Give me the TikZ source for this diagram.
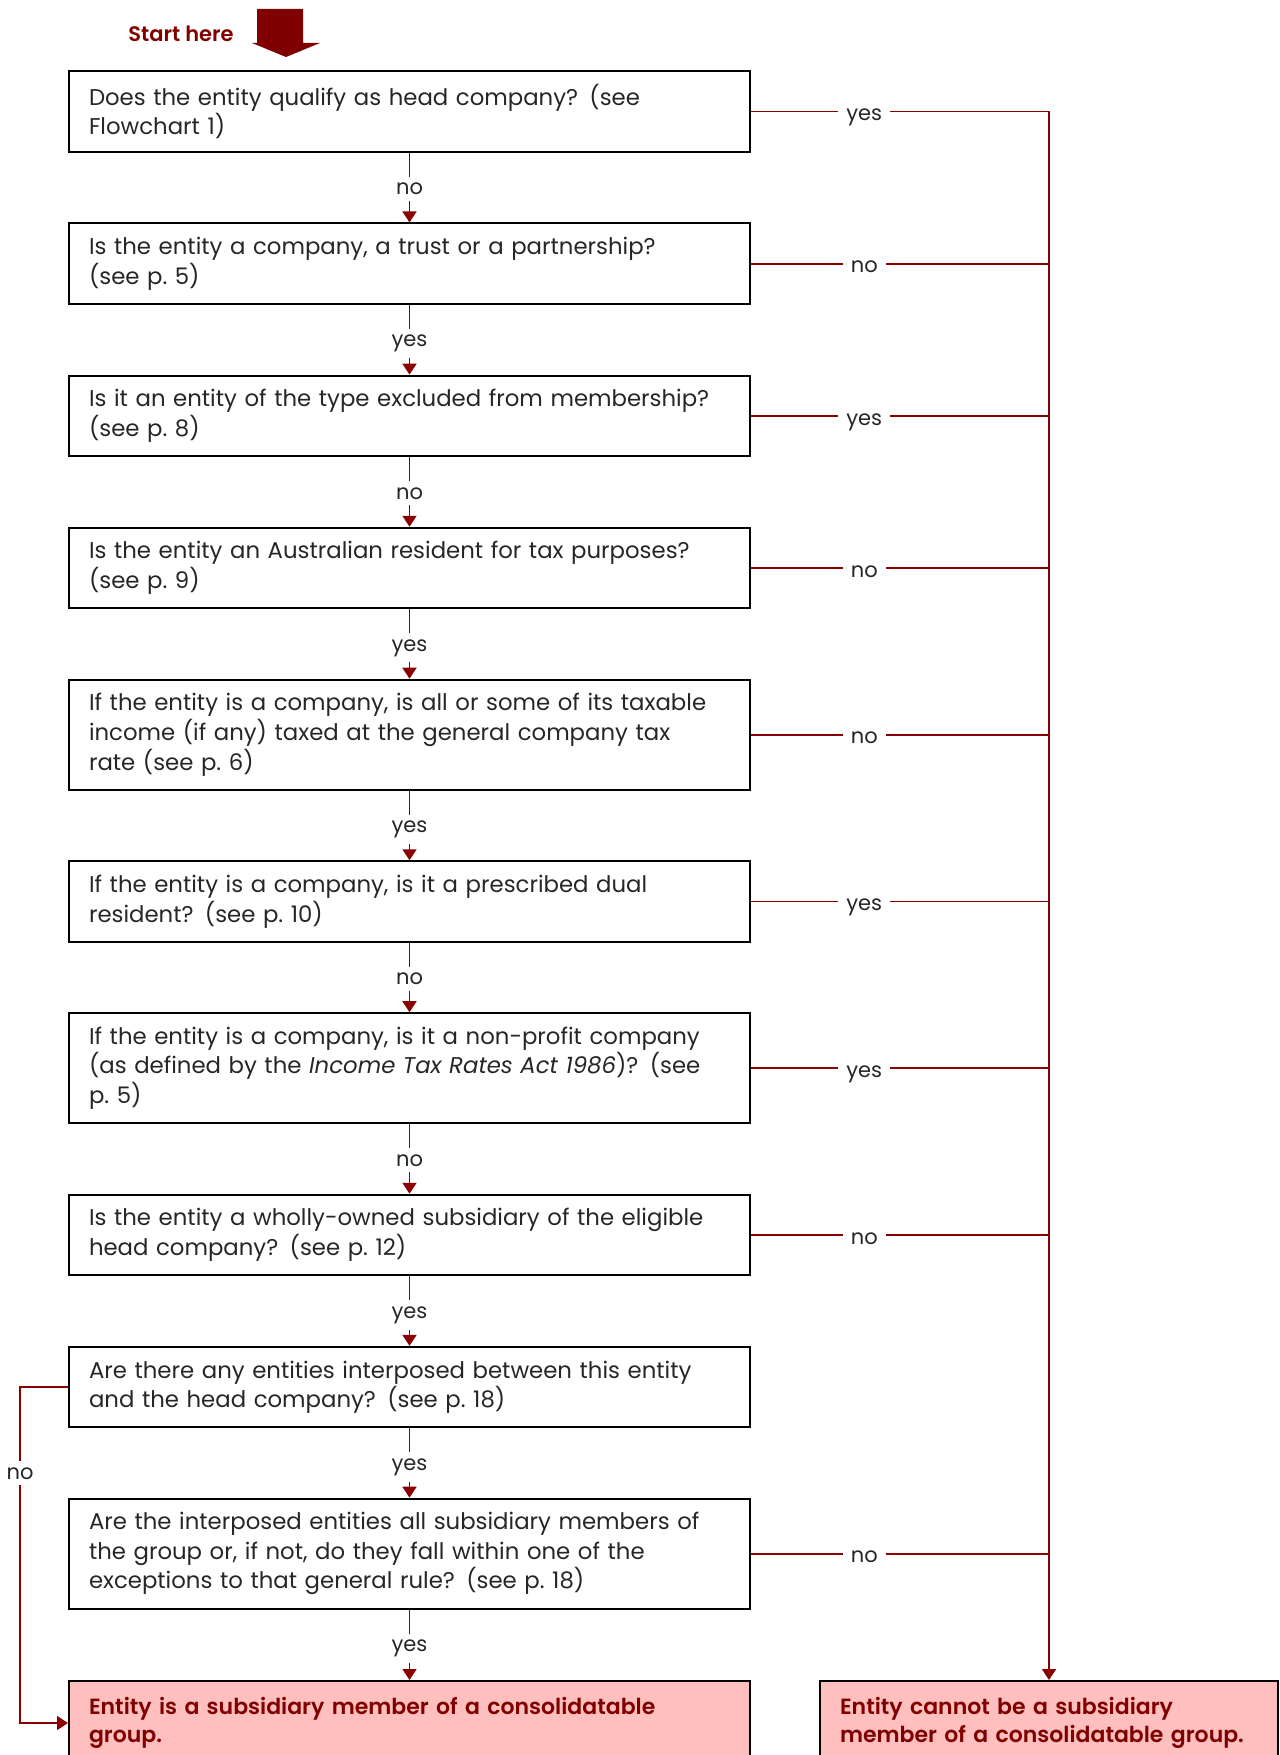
\documentclass[tikz,border=0pt]{standalone}
\usepackage{fontspec}
\setmainfont{Poppins}[BoldFont={Poppins SemiBold}]
\usetikzlibrary{arrows.meta}
\definecolor{linkred}{RGB}{139,0,0}
\definecolor{darkred}{RGB}{128,0,0}
\definecolor{endpink}{RGB}{255,191,191}

\begin{document}
\begin{tikzpicture}[x=0.5pt,y=-0.5pt,font=\fontsize{10.5}{14.8}\selectfont,
  qbox/.style={draw,line width=1pt,align=left,text width=320.5pt,inner xsep=10pt,
    minimum height=40.25pt,text=black!85,font=\fontsize{11.4}{14.8}\selectfont},
  tall/.style={minimum height=55pt},
  endbox/.style={draw,line width=1pt,fill=endpink,text=darkred,
    font=\fontsize{11}{14.3}\selectfont\bfseries,align=left,inner xsep=10pt,minimum height=42pt},
  link/.style={draw=linkred,line width=0.85pt},
  arr/.style={link,-{Triangle[width=7pt,length=5.5pt]}},
  lbl/.style={fill=white,anchor=mid,yshift=-0.8pt,inner xsep=4pt,inner ysep=3pt,text=black!85},
  side/.style={lbl,yshift=-1.1pt}]
  \clip (0,0) rectangle (1279,1755);
  % start marker
  \node[font=\fontsize{10.5}{14.8}\selectfont\bfseries,text=darkred] (start) at (181,34) {Start here};
  \fill[darkred] (257,9) -- (303,9) -- (303,43) -- (320,43) -- (286,57) -- (252,43) -- (257,43) -- cycle;
  % questions
  \node[qbox] (q1) at (409.5,111.5) {Does the entity qualify as head company? (see\\Flowchart 1)};
  \node[qbox] (q2) at (409.5,263.7) {Is the entity a company, a trust or a partnership?\\(see p.~5)};
  \node[qbox] (q3) at (409.5,415.9) {Is it an entity of the type excluded from membership?\\(see p.~8)};
  \node[qbox] (q4) at (409.5,568) {Is the entity an Australian resident for tax purposes?\\(see p.~9)};
  \node[qbox,tall] (q5) at (409.5,734.7) {If the entity is a company, is all or some of its taxable\\income (if any) taxed at the general company tax\\rate (see p.~6)};
  \node[qbox] (q6) at (409.5,901.5) {If the entity is a company, is it a prescribed dual\\resident? (see p.~10)};
  \node[qbox,tall] (q7) at (409.5,1068.2) {If the entity is a company, is it a non-profit company\\(as defined by the \textit{Income Tax Rates Act 1986})? (see\\p.~5)};
  \node[qbox] (q8) at (409.5,1235) {Is the entity a wholly-owned subsidiary of the eligible\\head company? (see p.~12)};
  \node[qbox] (q9) at (409.5,1387.1) {Are there any entities interposed between this entity\\and the head company? (see p.~18)};
  \node[qbox,tall] (q10) at (409.5,1553.7) {Are the interposed entities all subsidiary members of\\the group or, if not, do they fall within one of the\\exceptions to that general rule? (see p.~18)};
  % outcomes
  \node[endbox,text width=320.5pt] (yesend) at (409.5,1723) {Entity is a subsidiary member of a consolidatable\\group.};
  \node[endbox,text width=209pt] (noend) at (1049,1723) {Entity cannot be a subsidiary\\member of a consolidatable group.};
  % main line down
  \foreach \a/\b/\t in {q1/q2/no,q2/q3/yes,q3/q4/no,q4/q5/yes,q5/q6/yes,q6/q7/no,q7/q8/no,q8/q9/yes,q9/q10/yes,q10/yesend/yes}
    \draw[arr] (\a) -- (\b) node[midway,lbl]{\t};
  % exits to the right
  \foreach \a/\t in {q1/yes,q2/no,q3/yes,q4/no,q5/no,q6/yes,q7/yes,q8/no,q10/no}
    \draw[link] (\a.east) -- (\a.east -| noend.north) node[pos=0.38,side]{\t};
  \draw[arr] (q1.east -| noend.north) -- (noend.north);
  % bypass on the left
  \coordinate (bypass) at (20,1472);
  \draw[arr] (q9.west) -| (bypass) node[lbl]{no} |- (yesend.west);
\end{tikzpicture}
\end{document}
